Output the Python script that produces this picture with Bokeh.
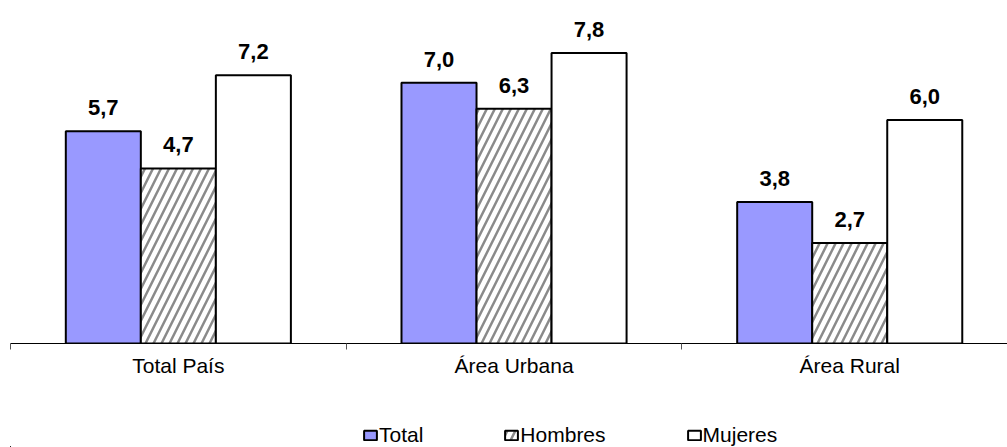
from bokeh.plotting import figure
from bokeh.models import ColumnDataSource, LabelSet, Legend, LegendItem, FixedTicker, Range1d
from bokeh.layouts import column
from bokeh.core.properties import value
from bokeh.embed import file_html
from bokeh.resources import INLINE

categories = ["Total País", "Área Urbana", "Área Rural"]
series_names = ["Total", "Hombres", "Mujeres"]
total = [5.7, 7.0, 3.8]
hombres = [4.7, 6.3, 2.7]
mujeres = [7.2, 7.8, 6.0]

FONT = "Liberation Sans"
BAR_W = 0.2235
centers = [i + 0.5 for i in range(len(categories))]

p = figure(width=1007, height=412, output_backend="svg", toolbar_location=None,
           x_range=Range1d(0, 2.970), y_range=Range1d(0, 9.21),
           y_axis_location=None, min_border_left=10, min_border_right=0,
           min_border_top=0, min_border_bottom=69)
p.outline_line_color = None
p.grid.visible = False
p.background_fill_color = "white"

def fmt(v):
    return f"{v:.1f}".replace(".", ",")

styles = [
    dict(fill_color="#9999FF"),
    dict(fill_color="white", hatch_pattern="/", hatch_color="#8a8a8a", hatch_scale=16, hatch_weight=2.5),
    dict(fill_color="white"),
]
offsets = [-BAR_W, 0.0, BAR_W]
sources = []
for name, vals, off, st in zip(series_names, [total, hombres, mujeres], offsets, styles):
    src = ColumnDataSource(dict(x=[c + off for c in centers], top=vals,
                                lab=[fmt(v) for v in vals]))
    sources.append(src)
    p.vbar(x="x", top="top", bottom=0, width=BAR_W, source=src,
           line_color="black", line_width=2, **st)
    p.add_layout(LabelSet(x="x", y="top", text="lab", source=src, y_offset=16,
                          text_align="center", text_baseline="alphabetic",
                          text_font=value(FONT), text_font_size=value("22px"),
                          text_font_style=value("bold"), text_color="black"))

ax = p.xaxis[0]
ax.ticker = FixedTicker(ticks=centers, minor_ticks=[0, 1, 2, 3])
ax.major_label_overrides = {c: lab for c, lab in zip(centers, categories)}
ax.major_tick_line_color = None
ax.major_tick_out = 0
ax.major_tick_in = 0
ax.minor_tick_out = 6
ax.minor_tick_in = 0
ax.minor_tick_line_color = "#555555"
ax.axis_line_color = "black"
ax.axis_line_width = 1
ax.major_label_standoff = 4
ax.major_label_text_font = FONT
ax.major_label_text_font_size = "21px"
ax.major_label_text_color = "black"

# legend strip below the chart: swatch renderers share the bar data but
# lie entirely outside this strip's visible ranges, so only their legend swatches show
pl = figure(width=1007, height=35, output_backend="svg", toolbar_location=None,
            x_range=Range1d(100, 101), y_range=Range1d(100, 101),
            x_axis_location=None, y_axis_location=None,
            min_border_left=10, min_border_right=0, min_border_top=0, min_border_bottom=0)
pl.outline_line_color = None
pl.grid.visible = False
swatches = []
for src, st in zip(sources, styles):
    swatches.append(pl.vbar(x="x", top="top", bottom=0, width=BAR_W, source=src,
                            line_color="black", line_width=2, **st))

legend = Legend(items=[LegendItem(label=n, renderers=[r]) for n, r in zip(series_names, swatches)],
                orientation="horizontal", location=(352, 0),
                glyph_width=16, glyph_height=12, label_standoff=1, spacing=80,
                padding=0, margin=0, border_line_color=None, background_fill_alpha=0,
                label_text_font=FONT, label_text_font_size="21px", label_text_color="black")
pl.add_layout(legend, "center")

layout = column(p, pl, spacing=0)
open("out.html", "w").write(file_html(layout, INLINE))
